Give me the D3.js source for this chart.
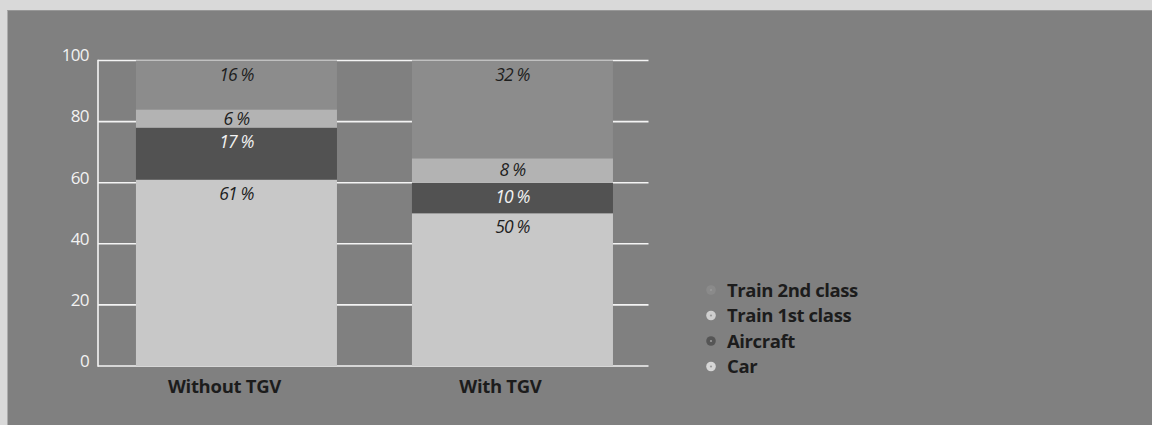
<!DOCTYPE html>
<html>
<head>
<meta charset="utf-8">
<script src="https://cdn.jsdelivr.net/npm/d3@7"></script>
<style>
  html, body { margin: 0; padding: 0; background: #d9d9d9; }
  svg { display: block; }
</style>
</head>
<body>
<svg id="chart" width="1152" height="425"></svg>
<script>
// ---- data ----
const categories = ["Without TGV", "With TGV"];
const seriesNames = ["Car", "Aircraft", "Train 1st class", "Train 2nd class"];
const car = [61, 50];
const aircraft = [17, 10];
const train1st = [6, 8];
const train2nd = [16, 32];
const yTicks = [0, 20, 40, 60, 80, 100];
const legendOrder = ["Train 2nd class", "Train 1st class", "Aircraft", "Car"];

const colors = {
  "Car": "#c8c8c8",
  "Aircraft": "#525252",
  "Train 1st class": "#b3b3b3",
  "Train 2nd class": "#8c8c8c"
};
const labelColors = {
  "Car": "#1e1e1e",
  "Aircraft": "#f2f2f2",
  "Train 1st class": "#1e1e1e",
  "Train 2nd class": "#1e1e1e"
};

const rows = categories.map((c, i) => ({
  category: c,
  "Car": car[i],
  "Aircraft": aircraft[i],
  "Train 1st class": train1st[i],
  "Train 2nd class": train2nd[i]
}));

const svg = d3.select("#chart");

// panel
svg.append("rect").attr("x", 7.5).attr("y", 10).attr("width", 1152 - 7.5).attr("height", 425 - 10)
  .attr("fill", "#808080");
svg.append("line").attr("x1", 7.5).attr("x2", 1152).attr("y1", 10.5).attr("y2", 10.5)
  .attr("stroke", "#979797").attr("stroke-width", 1);

const x = d3.scaleBand().domain(categories).range([98, 648])
  .paddingInner(0.2717).paddingOuter(0.1322).align(0.52);
const y = d3.scaleLinear().domain([0, 100]).range([366, 60.5]);

// grid lines
const grid = svg.append("g");
grid.selectAll("line").data(yTicks).join("line")
  .attr("x1", 98).attr("x2", 648.5)
  .attr("y1", d => y(d)).attr("y2", d => y(d))
  .attr("stroke", "#f4f4f4").attr("stroke-width", 1.6);
// left axis line
svg.append("line").attr("x1", 98).attr("x2", 98)
  .attr("y1", y(100) - 0.8).attr("y2", y(0) + 0.8)
  .attr("stroke", "#f4f4f4").attr("stroke-width", 1.6);

// y tick labels via axis
const yAxis = d3.axisLeft(y).tickValues(yTicks).tickSize(0).tickPadding(0);
const yg = svg.append("g").attr("transform", "translate(89,0)").call(yAxis);
yg.select(".domain").remove();
yg.selectAll("text")
  .attr("fill", "#f2f2f2")
  .attr("font-family", "'Open Sans', sans-serif")
  .attr("font-size", 17)
  .attr("letter-spacing", "-0.6px")
  .attr("dy", "0.02em");

// stacked bars
const stack = d3.stack().keys(seriesNames);
const stacked = stack(rows);

const layers = svg.append("g").selectAll("g").data(stacked).join("g")
  .attr("fill", d => colors[d.key]);
layers.selectAll("rect").data(d => d).join("rect")
  .attr("x", d => x(d.data.category))
  .attr("width", x.bandwidth())
  .attr("y", d => y(d[1]))
  .attr("height", d => y(d[0]) - y(d[1]));

// segment labels
const labels = svg.append("g");
stacked.forEach(layer => {
  layer.forEach(d => {
    const top = y(d[1]);
    const h = y(d[0]) - y(d[1]);
    const off = Math.min(20, h / 2 + 6);
    labels.append("text")
      .attr("x", x(d.data.category) + x.bandwidth() / 2)
      .attr("y", top + off)
      .attr("text-anchor", "middle")
      .attr("font-family", "'Open Sans', sans-serif")
      .attr("font-style", "italic")
      .attr("font-size", 17.5)
      .attr("letter-spacing", "-0.8px")
      .attr("fill", labelColors[layer.key])
      .text((d[1] - d[0]) + " %");
  });
});

// x axis labels
const xAxis = d3.axisBottom(x).tickSize(0).tickPadding(0);
const xg = svg.append("g").attr("transform", "translate(-12,380)").call(xAxis);
xg.select(".domain").remove();
xg.selectAll("text")
  .attr("fill", "#1c1c1c")
  .attr("font-family", "'Open Sans', sans-serif")
  .attr("font-weight", "bold")
  .attr("font-size", 18.5)
  .attr("dy", "0.72em")
  .attr("letter-spacing", "-0.3px");

// legend
const legend = svg.append("g");
const lg = legend.selectAll("g").data(legendOrder).join("g")
  .attr("transform", (d, i) => `translate(711,${290 + i * 25.5})`);
lg.append("circle").attr("r", 4.8).attr("fill", d => d === "Train 2nd class" ? "#8a8a8a" : (d === "Train 1st class" ? "#cfcfcf" : (d === "Car" ? "#d6d6d6" : "#555555")));
lg.append("circle").attr("r", 1.1).attr("fill", "#9a9a9a");
lg.append("text")
  .attr("x", 16)
  .attr("dy", "0.36em")
  .attr("fill", "#1c1c1c")
  .attr("font-family", "'Open Sans', sans-serif")
  .attr("font-weight", "bold")
  .attr("font-size", 18.5)
  .attr("letter-spacing", "-0.4px")
  .text(d => d);
</script>
</body>
</html>
